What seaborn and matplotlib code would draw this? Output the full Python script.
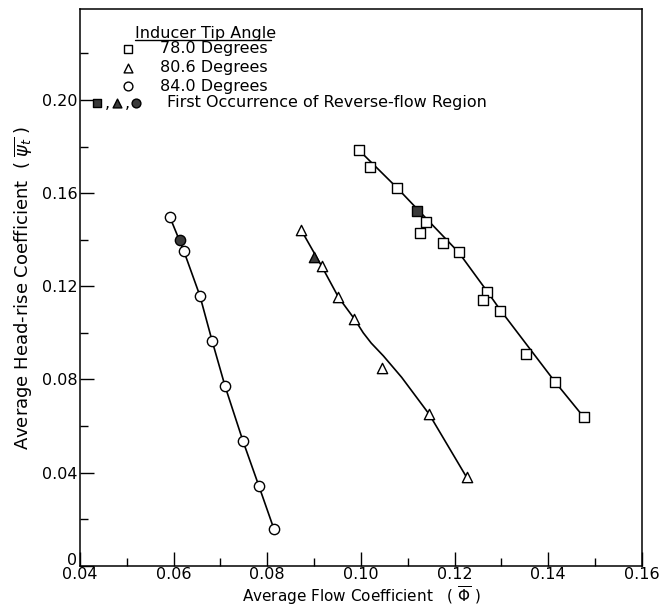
import numpy as np
import pandas as pd
import matplotlib
matplotlib.use("Agg")
import matplotlib.pyplot as plt
import matplotlib.transforms as mtrans
import seaborn as sns

sq_phi = [0.0996, 0.1020, 0.1078, 0.1140, 0.1126, 0.1176, 0.1209, 0.1270, 0.1261, 0.1297, 0.1352, 0.1414, 0.1476]
sq_psi = [0.1784, 0.1714, 0.1621, 0.1478, 0.1428, 0.1387, 0.1345, 0.1177, 0.1142, 0.1095, 0.0908, 0.0791, 0.0638]
sq_first = (0.1119, 0.1525)

tri_phi = [0.0872, 0.0916, 0.0952, 0.0986, 0.1046, 0.1146, 0.1226]
tri_psi = [0.1443, 0.1287, 0.1153, 0.1060, 0.0851, 0.0650, 0.0379]
tri_first = (0.0900, 0.1326)

cir_phi = [0.0592, 0.0622, 0.0656, 0.0682, 0.0710, 0.0748, 0.0782, 0.0814]
cir_psi = [0.1497, 0.1350, 0.1160, 0.0967, 0.0770, 0.0536, 0.0343, 0.0159]
cir_first = (0.0614, 0.1397)

# faired curves drawn through the data
sq_fit_phi = [0.0996, 0.1078, 0.1140, 0.1209, 0.1270, 0.1297, 0.1414, 0.1476]
sq_fit_psi = [0.1784, 0.1621, 0.1490, 0.1345, 0.1177, 0.1100, 0.0791, 0.0638]
tri_fit_phi = [0.0872, 0.0916, 0.0952, 0.0986, 0.1005, 0.1022, 0.1048, 0.1087, 0.1146, 0.1226]
tri_fit_psi = [0.1443, 0.1287, 0.1153, 0.1060, 0.1000, 0.0956, 0.0901, 0.0809, 0.0650, 0.0379]

x_ticks = [0.04, 0.06, 0.08, 0.10, 0.12, 0.14, 0.16]
x_labels = ["0.04", "0.06", "0.08", "0.10", "0.12", "0.14", "0.16"]
y_ticks = [0, 0.04, 0.08, 0.12, 0.16, 0.20]
y_labels = ["0", "0.04", "0.08", "0.12", "0.16", "0.20"]

legend_labels = ["78.0 Degrees", "80.6 Degrees", "84.0 Degrees"]

sns.set_style("ticks")
plt.rcParams["font.family"] = ["DejaVu Sans"]
plt.rcParams["text.color"] = "black"
plt.rcParams["axes.labelcolor"] = "black"
plt.rcParams["xtick.color"] = "black"
plt.rcParams["ytick.color"] = "black"

fig = plt.figure(figsize=(6.61, 6.07), dpi=100)
ax = fig.add_axes([0.121, 0.068, 0.850, 0.917])

lw = 1.2
ms = 55
sns.lineplot(x=sq_fit_phi, y=sq_fit_psi, sort=False, color="black", lw=lw, ax=ax)
sns.lineplot(x=tri_fit_phi, y=tri_fit_psi, sort=False, color="black", lw=lw, ax=ax)
sns.lineplot(x=cir_phi, y=cir_psi, sort=False, color="black", lw=lw, ax=ax)

style = dict(facecolor="white", edgecolor="black", linewidth=1.0, s=ms, zorder=3)
sns.scatterplot(x=sq_phi, y=sq_psi, marker="s", ax=ax, **style)
sns.scatterplot(x=tri_phi, y=tri_psi, marker="^", ax=ax, **style)
sns.scatterplot(x=cir_phi, y=cir_psi, marker="o", ax=ax, **style)

fstyle = dict(facecolor="#3a3a3a", edgecolor="black", linewidth=1.0, s=ms, zorder=4)
sns.scatterplot(x=[sq_first[0]], y=[sq_first[1]], marker="s", ax=ax, **fstyle)
sns.scatterplot(x=[tri_first[0]], y=[tri_first[1]], marker="^", ax=ax, **fstyle)
sns.scatterplot(x=[cir_first[0]], y=[cir_first[1]], marker="o", ax=ax, **fstyle)

ax.set_xlim(0.04, 0.16)
ax.set_ylim(0, 0.239)
ax.set_xticks(x_ticks)
ax.set_xticklabels(x_labels)
ax.set_yticks(y_ticks)
ax.set_yticklabels(y_labels)
ax.set_xticks(np.arange(0.05, 0.16, 0.02), minor=True)
ax.set_yticks(np.arange(0.02, 0.24, 0.04), minor=True)
ax.tick_params(which="major", direction="in", length=10, width=1, labelsize=11.5, pad=2)
ax.tick_params(axis="x", which="major", pad=1)
ax.tick_params(which="minor", direction="in", length=5.5, width=1)
for s in ax.spines.values():
    s.set_linewidth(1.1)
    s.set_color("black")

# the "0" on the y axis sits a little above the x labels
zero_lab = ax.get_yticklabels()[0]
zero_lab.set_transform(zero_lab.get_transform() +
                       mtrans.ScaledTranslation(0, 5 / 72, fig.dpi_scale_trans))

ax.set_xlabel(r"Average Flow Coefficient   ( $\overline{\Phi}$ )", fontsize=11, va="bottom")
ax.xaxis.set_label_coords(0.5, -0.075)
ax.set_ylabel(r"Average Head-rise Coefficient  ( $\overline{\psi_t}$ )", fontsize=13, labelpad=5)

# legend drawn by hand, like the original
tr = ax.transAxes
ax.text(0.098, 0.957, "Inducer Tip Angle", transform=tr, fontsize=11.5, va="center")
ax.plot([0.098, 0.340], [0.945, 0.945], transform=tr, color="black", lw=1)
leg_markers = ["s", "^", "o"]
leg_y = [0.929, 0.895, 0.861]
for m, lab, yy in zip(leg_markers, legend_labels, leg_y):
    ax.scatter([0.085], [yy], transform=tr, marker=m, s=40, facecolor="white",
               edgecolor="black", linewidth=1.0, clip_on=False)
    ax.text(0.142, yy, lab, transform=tr, fontsize=11.5, va="center")
row4 = 0.832
for xx, m in zip([0.030, 0.066, 0.100], leg_markers):
    ax.scatter([xx], [row4], transform=tr, marker=m, s=40, facecolor="#3a3a3a",
               edgecolor="black", linewidth=1.0, clip_on=False)
for xx in [0.044, 0.080]:
    ax.text(xx, row4 - 0.010, ",", transform=tr, fontsize=11.5, va="baseline")
ax.text(0.155, row4, "First Occurrence of Reverse-flow Region", transform=tr,
        fontsize=11.5, va="center")

fig.savefig("out.png", dpi=100)
